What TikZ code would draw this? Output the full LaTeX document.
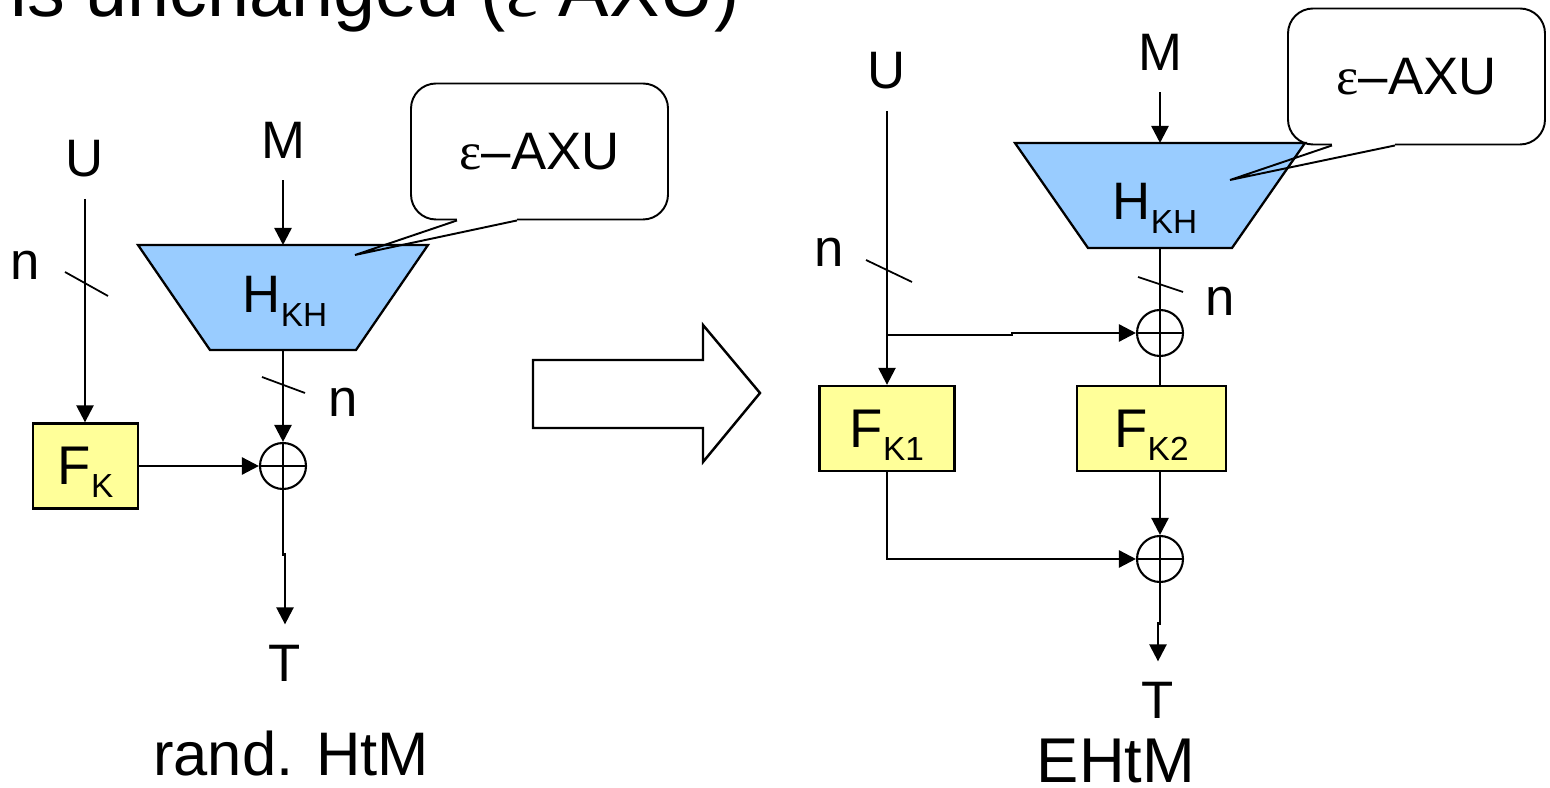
\documentclass[tikz,border=0pt]{standalone}
\usepackage{fontspec}
\setmainfont{Liberation Sans}
\newfontfamily\grk{Liberation Serif}
\usepackage{tikz}
\usetikzlibrary{arrows.meta}
\definecolor{celeste}{HTML}{99CCFF}
\definecolor{giallo}{HTML}{FFFF99}
\newcommand{\lowsub}[1]{\raisebox{-7.5pt}{\fontsize{19}{19}\selectfont #1}}
\tikzset{
  arr/.style={line width=1.4pt, -{Triangle[length=0.34cm,width=0.34cm]}},
  wire/.style={line width=1.4pt},
  bus/.style={line width=1pt},
  sig/.style={font=\fontsize{30}{36}\selectfont, inner xsep=2pt, inner ysep=0.42cm, anchor=base},
  nlab/.style={font=\fontsize{30}{36}\selectfont, inner sep=0pt},
  prf/.style={draw, line width=1.3pt, fill=giallo, font=\fontsize{31}{36}\selectfont,
    minimum height=1.70cm, text depth=0pt, inner sep=0pt},
  xorc/.style={circle, draw, line width=1.2pt, minimum size=0.92cm, inner sep=0pt,
    path picture={\draw[line width=0.7pt] (path picture bounding box.north) -- (path picture bounding box.south)
      (path picture bounding box.west) -- (path picture bounding box.east);}},
  hash/.style={draw, line width=1.3pt, fill=celeste},
  hlab/.style={anchor=base, inner sep=0pt, font=\fontsize{30}{36}\selectfont},
  bubble/.style={draw, line width=1.1pt, rounded corners=0.5cm, minimum width=5.14cm,
    minimum height=2.72cm, font=\fontsize{30}{36}\selectfont},
  captext/.style={anchor=base, inner sep=0pt}
}

\begin{document}
\begin{tikzpicture}
  \useasboundingbox (0,0) rectangle (31,15.76);
  % Title, cut by the page edge
  \node[anchor=base west, inner sep=0pt, font=\fontsize{43}{50}\selectfont] (title) at (0.20,15.42) {is unchanged ({\grk ε} AXU)};
  % Left: rand. HtM
  \node[sig] (UL) at (1.70,12.22) {U};
  \node[sig] (ML) at (5.66,12.58) {M};
  \node[prf, minimum width=2.10cm] (FK) at (1.71,6.44) {F\lowsub{K}};
  \node[xorc] (xL) at (5.66,6.44) {};
  \node[sig] (TL) at (5.70,2.12) {T};
  % Hash block
  \filldraw[hash] (2.76,10.86) -- (8.56,10.86) -- (7.12,8.76) -- (4.20,8.76) -- cycle;
  \coordinate (hLtop) at (5.66,10.86);
  \coordinate (hLbot) at (5.66,8.76);
  \node[hlab] (hL) at (5.70,9.50) {H\lowsub{KH}};
  % Wires
  \draw[arr] (UL.south) -- (UL.south |- FK.north);
  \draw[bus] (1.30,10.32) -- (2.16,9.84);
  \node[nlab] (nL1) at (0.50,10.46) {n};
  \draw[arr] (ML.south) -- (hLtop);
  \draw[arr] (hLbot) -- (xL.north);
  \draw[bus] (5.24,8.22) -- (6.10,7.90);
  \node[nlab] (nL2) at (6.86,7.72) {n};
  \draw[arr] (FK.east) -- (xL.west);
  \draw[arr] (xL.south) |- ([yshift=1.4cm]TL.north) -- (TL.north);
  \node[captext, font=\fontsize{35}{42}\selectfont] (capL) at (5.82,0.26) {rand. HtM};
  % Callout
  \node[bubble] (axuL) at (10.79,12.73) {{\grk ε}--AXU};
  \coordinate (tipL) at (7.10,10.66);
  \draw[white, line width=2.4pt] ([xshift=-1.65cm]axuL.south) -- ([xshift=-0.45cm]axuL.south);
  \draw[line width=1.1pt] ([xshift=-1.65cm]axuL.south) -- (tipL) -- ([xshift=-0.45cm]axuL.south);

  % Hollow arrow
  \draw[wire] (10.66,8.56) -- (14.06,8.56) -- (14.06,9.26) -- (15.20,7.90)
    -- (14.06,6.52) -- (14.06,7.20) -- (10.66,7.20) -- cycle;

  % Right: EHtM
  \node[sig] (UR) at (17.74,13.98) {U};
  \node[sig] (MR) at (23.20,14.34) {M};
  \filldraw[hash] (20.30,12.90) -- (26.10,12.90) -- (24.64,10.80) -- (21.76,10.80) -- cycle;
  \coordinate (hRtop) at (23.20,12.90);
  \coordinate (hRbot) at (23.20,10.80);
  \node[hlab] (hR) at (23.10,11.36) {H\lowsub{KH}};
  \node[xorc] (x1) at (23.20,9.10) {};
  \node[prf, minimum width=2.70cm] (FK1) at (17.74,7.19) {F\lowsub{K1}};
  \node[prf, minimum width=2.98cm] (FK2) at (23.03,7.19) {F\lowsub{K2}};
  \node[xorc] (x2) at (23.20,4.58) {};
  \node[sig] (TR) at (23.16,1.38) {T};
  \coordinate (brR) at (17.74,9.06);
  % Wires
  \draw[arr] (UR.south) -- (FK1.north);
  \draw[bus] (17.32,10.56) -- (18.24,10.12);
  \node[nlab] (nR1) at (16.58,10.72) {n};
  \draw[arr] (brR) -- (20.24,9.06) |- (x1.west);
  \draw[arr] (MR.south) -- (hRtop);
  \draw[wire] (hRbot) -- (x1.north);
  \draw[wire] (x1.south) -- (x1.south |- FK2.north);
  \draw[bus] (22.76,10.22) -- (23.66,9.92);
  \node[nlab] (nR2) at (24.40,9.74) {n};
  \draw[arr] (x2.north |- FK2.south) -- (x2.north);
  \draw[arr] (FK1.south) |- (x2.west);
  \draw[arr] (x2.south) |- ([yshift=0.76cm]TR.north) -- (TR.north);
  \node[captext, font=\fontsize{36}{42}\selectfont] (capR) at (22.32,0.10) {EHtM};
  % Callout
  \node[bubble] (axuR) at (28.33,14.23) {{\grk ε}--AXU};
  \coordinate (tipR) at (24.60,12.16);
  \draw[white, line width=2.4pt] ([xshift=-1.69cm]axuR.south) -- ([xshift=-0.43cm]axuR.south);
  \draw[line width=1.1pt] ([xshift=-1.69cm]axuR.south) -- (tipR) -- ([xshift=-0.43cm]axuR.south);
\end{tikzpicture}
\end{document}
